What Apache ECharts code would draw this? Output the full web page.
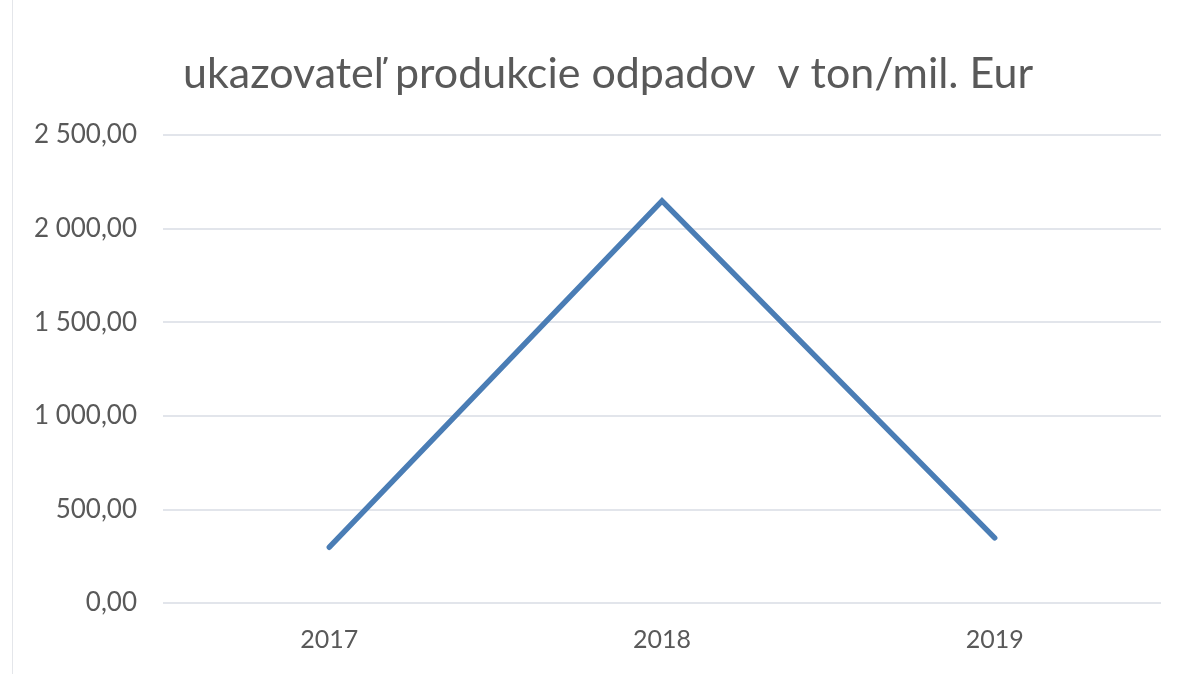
<!DOCTYPE html>
<html>
<head>
<meta charset="utf-8">
<script src="https://cdn.jsdelivr.net/npm/echarts@6/dist/echarts.min.js"></script>
<style>
  html, body { margin: 0; padding: 0; background: #fff; }
  #chart { width: 1184px; height: 674px; }
  .edge { position: absolute; left: 12px; top: 0; width: 1px; height: 674px; background: #e4e6ea; }
</style>
</head>
<body>
<div class="edge"></div>
<div id="chart"></div>
<script>
const years = ['2017', '2018', '2019']
const wasteIndex = [298, 2148, 348]
const yMin = 0
const yMax = 2500
const yStep = 500

// 2 500,00 style: space for thousands, comma for decimals
const fmt = (v) => {
  const parts = v.toFixed(2).split('.')
  const whole = parts[0].replace(/\B(?=(\d{3})+(?!\d))/g, ' ')
  return whole + ',' + parts[1]
}

const chart = echarts.init(document.getElementById('chart'))

const option = {
  backgroundColor: 'transparent',
  title: {
    text: 'ukazovateľ produkcie odpadov  v ton/mil. Eur',
    left: 603,
    textAlign: 'center',
    top: 48,
    textStyle: {
      fontFamily: 'Lato',
      fontWeight: 'normal',
      fontSize: 43,
      color: '#595959'
    }
  },
  grid: {
    left: 163,
    right: 23,
    top: 135,
    bottom: 71,
    containLabel: false
  },
  xAxis: {
    type: 'category',
    data: years,
    boundaryGap: true,
    axisLine: { show: false },
    axisTick: { show: false },
    axisLabel: {
      margin: 24,
      fontFamily: 'Lato',
      fontSize: 25,
      color: '#595959'
    }
  },
  yAxis: {
    type: 'value',
    min: yMin,
    max: yMax,
    interval: yStep,
    axisLine: { show: false },
    axisTick: { show: false },
    splitLine: { lineStyle: { color: '#d8dde4', width: 1.5 } },
    axisLabel: {
      margin: 26,
      fontFamily: 'Lato',
      fontSize: 26,
      color: '#595959',
      formatter: fmt
    }
  },
  series: [
    {
      type: 'line',
      data: wasteIndex,
      symbol: 'none',
      lineStyle: { color: '#4a7db5', width: 5.5, cap: 'round', join: 'miter' },
      animation: false
    }
  ]
}

chart.setOption(option)
</script>
</body>
</html>
